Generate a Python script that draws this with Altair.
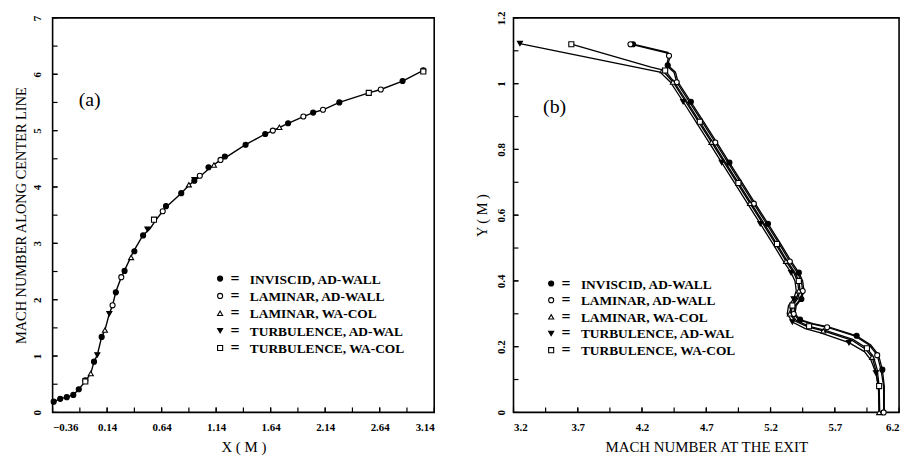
import altair as alt
import pandas as pd

FONT = "Liberation Serif"

SERIES = ["INVISCID, AD-WALL", "LAMINAR, AD-WALL", "LAMINAR, WA-COL",
          "TURBULENCE, AD-WAL", "TURBULENCE, WA-COL"]
SHAPES = ["circle", "circle", "triangle-up", "triangle-down", "square"]
FILLS = ["black", "white", "white", "black", "white"]

# ---------------- panel (a) ----------------
A_XDOM = [-0.36, 3.14]
A_YDOM = [0, 7]
A_XLABELS = [-0.36, 0.14, 0.64, 1.14, 1.64, 2.14, 2.64, 3.14]
A_XTICKS = [-0.11, 0.14, 0.39, 0.64, 0.89, 1.14, 1.39, 1.64, 1.89, 2.14, 2.39, 2.64, 2.89]
A_YLABELS = [0, 1, 2, 3, 4, 5, 6, 7]
A_YTICKS = [0.5, 1, 1.5, 2, 2.5, 3, 3.5, 4, 4.5, 5, 5.5, 6, 6.5]

a_curve_x = [-0.35, -0.29, -0.23, -0.17, -0.12, -0.06, -0.01, 0.02, 0.05, 0.09, 0.12, 0.16,
             0.19, 0.22, 0.27, 0.30, 0.38, 0.47, 0.53, 0.59, 0.65, 0.69, 0.82, 0.89, 0.94,
             1.00, 1.09, 1.18, 1.24, 1.41, 1.59, 1.66, 1.80, 1.94, 2.03, 2.12, 2.27, 2.54,
             2.65, 2.85, 3.04]
a_curve_m = [0.19, 0.24, 0.27, 0.31, 0.41, 0.55, 0.69, 0.90, 1.02, 1.34, 1.46, 1.75,
             1.90, 2.14, 2.40, 2.52, 2.85, 3.15, 3.25, 3.42, 3.57, 3.66, 3.89, 4.03, 4.11,
             4.20, 4.35, 4.48, 4.54, 4.75, 4.94, 5.00, 5.13, 5.25, 5.32, 5.37, 5.50, 5.67,
             5.73, 5.88, 6.07]

a_inv_x = [-0.35, -0.29, -0.23, -0.17, -0.12, -0.06, 0.02, 0.09, 0.22, 0.30, 0.39, 0.47,
           0.68, 0.82, 0.94, 1.07, 1.22, 1.41, 1.59, 1.80, 2.03, 2.27, 2.85, 3.04]
a_inv_m = [0.19, 0.24, 0.27, 0.31, 0.41, 0.57, 0.90, 1.34, 2.13, 2.51, 2.86, 3.14,
           3.66, 3.89, 4.11, 4.35, 4.54, 4.75, 4.94, 5.13, 5.32, 5.50, 5.88, 6.07]
a_lad_x = [0.19, 0.27, 0.65, 0.99, 1.18, 1.66, 1.94, 2.12, 2.65]
a_lad_m = [1.90, 2.40, 3.57, 4.20, 4.48, 5.00, 5.25, 5.37, 5.73]
a_lwc_x = [-0.01, 0.12, 0.36, 0.89, 1.12, 1.72]
a_lwc_m = [0.69, 1.46, 2.75, 4.04, 4.39, 5.06]
a_tad_x = [0.05, 0.16, 0.51, 0.94]
a_tad_m = [1.02, 1.75, 3.25, 4.13]
a_twc_x = [-0.06, 0.57, 2.54, 3.04]
a_twc_m = [0.55, 3.42, 5.67, 6.05]

# ---------------- panel (b) ----------------
B_XDOM = [3.2, 6.2]
B_YDOM = [0, 1.2]
B_XLABELS = [3.2, 3.7, 4.2, 4.7, 5.2, 5.7, 6.2]
B_XTICKS = [3.45, 3.7, 3.95, 4.2, 4.45, 4.7, 4.95, 5.2, 5.45, 5.7, 5.95]
B_YLABELS = [0, 0.2, 0.4, 0.6, 0.8, 1, 1.2]
B_YTICKS = [0.1, 0.2, 0.3, 0.4, 0.5, 0.6, 0.7, 0.8, 0.9, 1.0, 1.1]

b_inv_x = [4.13, 4.40, 4.42, 4.40, 4.46, 4.48, 4.58, 4.68, 4.78, 4.88, 4.98, 5.08, 5.18,
           5.28, 5.36, 5.42, 5.45, 5.46, 5.44, 5.40, 5.39, 5.43, 5.53, 5.65, 5.87, 5.98,
           6.04, 6.07, 6.085, 6.085]
b_inv_y = [1.12, 1.095, 1.086, 1.056, 1.035, 1.005, 0.945, 0.884, 0.822, 0.760, 0.698,
           0.636, 0.574, 0.512, 0.460, 0.425, 0.400, 0.370, 0.345, 0.325, 0.300, 0.282,
           0.270, 0.260, 0.233, 0.205, 0.175, 0.130, 0.080, 0.0]
b_lad_x = [4.11, 4.39, 4.41, 4.39, 4.45, 4.47, 4.57, 4.67, 4.77, 4.87, 4.97, 5.07, 5.17,
           5.27, 5.35, 5.41, 5.44, 5.45, 5.43, 5.39, 5.38, 5.42, 5.52, 5.64, 5.86, 5.97,
           6.03, 6.06, 6.08, 6.08]
b_lad_y = [1.12, 1.094, 1.085, 1.055, 1.034, 1.004, 0.944, 0.883, 0.821, 0.759, 0.697,
           0.635, 0.573, 0.511, 0.459, 0.424, 0.399, 0.369, 0.344, 0.324, 0.299, 0.281,
           0.269, 0.259, 0.232, 0.204, 0.174, 0.129, 0.079, 0.0]
b_twc_x = [3.65, 4.27, 4.38, 4.45, 4.55, 4.65, 4.75, 4.85, 4.95, 5.05, 5.15, 5.25, 5.33,
           5.39, 5.42, 5.43, 5.41, 5.37, 5.36, 5.40, 5.50, 5.62, 5.84, 5.95, 6.00, 6.03,
           6.045, 6.05]
b_twc_y = [1.12, 1.05, 1.04, 1.005, 0.945, 0.884, 0.822, 0.760, 0.698, 0.636, 0.574,
           0.512, 0.460, 0.425, 0.400, 0.370, 0.345, 0.325, 0.300, 0.280, 0.262, 0.250,
           0.222, 0.195, 0.170, 0.130, 0.080, 0.0]
b_lwc_x = [4.36, 4.44, 4.54, 4.64, 4.74, 4.84, 4.94, 5.04, 5.14, 5.24, 5.32, 5.38, 5.41,
           5.42, 5.40, 5.36, 5.35, 5.39, 5.49, 5.61, 5.83, 5.94, 5.99, 6.02, 6.04, 6.045]
b_lwc_y = [1.04, 1.005, 0.945, 0.884, 0.822, 0.760, 0.698, 0.636, 0.574, 0.512, 0.460,
           0.425, 0.400, 0.370, 0.345, 0.325, 0.300, 0.278, 0.260, 0.248, 0.220, 0.192,
           0.168, 0.128, 0.078, 0.0]
b_tad_x = [3.25, 4.34, 4.42, 4.52, 4.62, 4.72, 4.82, 4.92, 5.02, 5.12, 5.22, 5.30, 5.36,
           5.39, 5.40, 5.38, 5.34, 5.33, 5.37, 5.47, 5.59, 5.81, 5.93, 5.98, 6.02, 6.04,
           6.045]
b_tad_y = [1.122, 1.035, 1.005, 0.945, 0.884, 0.822, 0.760, 0.698, 0.636, 0.574, 0.512,
           0.460, 0.425, 0.400, 0.370, 0.345, 0.325, 0.300, 0.275, 0.255, 0.242, 0.212,
           0.185, 0.160, 0.120, 0.070, 0.0]

# ---------------- layout ----------------
WA, WB, H = 385, 389, 398


def frame(names, xs_list, ys_list):
    rows = []
    for name, xs, ys in zip(names, xs_list, ys_list):
        for i, (x, y) in enumerate(zip(xs, ys)):
            rows.append({"series": name, "x": x, "y": y, "i": i})
    return pd.DataFrame(rows)


def to_data(px, dom, size, flip=False):
    f = px / size
    return dom[1] - f * (dom[1] - dom[0]) if flip else dom[0] + f * (dom[1] - dom[0])


def legend_df(xdom, ydom, w, sym_px, eq_px, txt_px, top_px, step_px):
    rows = []
    for k, name in enumerate(SERIES):
        py = top_px + k * step_px
        rows.append({"series": name,
                     "sx": to_data(sym_px, xdom, w),
                     "ex": to_data(eq_px, xdom, w),
                     "tx": to_data(txt_px, xdom, w),
                     "y": to_data(py, ydom, H, flip=True)})
    return pd.DataFrame(rows)


def shape_fill():
    return dict(
        shape=alt.Shape("series:N", scale=alt.Scale(domain=SERIES, range=SHAPES), legend=None),
        fill=alt.Fill("series:N", scale=alt.Scale(domain=SERIES, range=FILLS), legend=None),
    )


def panel(xdom, ydom, w, xlabels, xfmt, xticks, ylabels, yfmt, yticks, xtitle, ytitle,
          lines_df, marks_df, leg, tag, tag_xy, ylab_pad, ytitle_pad, multi_line):
    xs = alt.Scale(domain=xdom, nice=False, zero=False)
    ys = alt.Scale(domain=ydom, nice=False, zero=False)
    xa = alt.Axis(values=xlabels, format=xfmt, title=xtitle, labelPadding=9, titlePadding=7)
    ya = alt.Axis(values=ylabels, format=yfmt, title=ytitle, labelAngle=270,
                  labelAlign="center", labelBaseline="bottom",
                  labelPadding=ylab_pad, titlePadding=ytitle_pad)
    X = lambda f="x": alt.X(f + ":Q", scale=xs, axis=xa)
    Y = lambda f="y": alt.Y(f + ":Q", scale=ys, axis=ya)

    if multi_line:
        line = alt.Chart(lines_df).mark_line(color="black", strokeWidth=1.3).encode(
            x=X(), y=Y(), detail="series:N", order="i:Q")
    else:
        line = alt.Chart(lines_df).mark_line(color="black", strokeWidth=1.4).encode(
            x=X(), y=Y(), order="i:Q")
    pts = alt.Chart(marks_df).mark_point(filled=True, stroke="black", strokeWidth=1.1,
                                         size=26, opacity=1).encode(x=X(), y=Y(), **shape_fill())

    xt = alt.Chart(pd.DataFrame({"x": xlabels + xticks})).mark_rule(
        color="black", strokeWidth=1.2).encode(x=X(), y=alt.value(H), y2=alt.value(H - 5))
    yt = alt.Chart(pd.DataFrame({"y": ylabels + yticks})).mark_rule(
        color="black", strokeWidth=1.2).encode(y=Y(), x=alt.value(0), x2=alt.value(5))

    lp = alt.Chart(leg).mark_point(filled=True, stroke="black", strokeWidth=1.1, size=26,
                                   opacity=1).encode(x=X("sx"), y=Y(), **shape_fill())
    le = alt.Chart(leg).mark_text(text="=", font=FONT, fontSize=16, fontWeight="bold",
                                  color="black", align="center", baseline="middle").encode(
        x=X("ex"), y=Y())
    lt = alt.Chart(leg).mark_text(font=FONT, fontSize=13.5, fontWeight="bold", color="black",
                                  align="left", baseline="middle", dy=1).encode(
        x=X("tx"), y=Y(), text="series:N")
    tg = alt.Chart(pd.DataFrame({"x": [tag_xy[0]], "y": [tag_xy[1]], "t": [tag]})).mark_text(
        font=FONT, fontSize=20, color="black", align="center", baseline="middle").encode(
        x=X(), y=Y(), text="t:N")

    return alt.layer(line, pts, xt, yt, lp, le, lt, tg).properties(width=w, height=H)


a_lines = pd.DataFrame({"x": a_curve_x, "y": a_curve_m, "i": list(range(len(a_curve_x)))})
a_marks = frame(SERIES, [a_inv_x, a_lad_x, a_lwc_x, a_tad_x, a_twc_x],
                [a_inv_m, a_lad_m, a_lwc_m, a_tad_m, a_twc_m])
a_leg = legend_df(A_XDOM, A_YDOM, WA, 169, 184, 199, 263, 17.5)

b_all = frame(SERIES, [b_inv_x, b_lad_x, b_lwc_x, b_tad_x, b_twc_x],
              [b_inv_y, b_lad_y, b_lwc_y, b_tad_y, b_twc_y])
offs = {s: k for k, s in enumerate(SERIES)}
b_marks = b_all[[r.i == 0 or (r.i + offs[r.series]) % 3 == 0 for r in b_all.itertuples()]]
b_leg = legend_df(B_XDOM, B_YDOM, WB, 38, 53, 68, 268, 16.8)

pa = panel(A_XDOM, A_YDOM, WA, A_XLABELS, ".2f", A_XTICKS, A_YLABELS, "d", A_YTICKS,
           "X ( M )", "MACH NUMBER ALONG CENTER LINE", a_lines, a_marks, a_leg,
           "(a)", (-0.02, 5.54), 10, 3, False)
pb = panel(B_XDOM, B_YDOM, WB, B_XLABELS, ".1f", B_XTICKS, B_YLABELS, "~g", B_YTICKS,
           "MACH NUMBER AT THE EXIT", "Y ( M )", b_all, b_marks, b_leg,
           "(b)", (3.52, 0.93), 7, 6, True)

chart = alt.hconcat(pa, pb, spacing=80, bounds="flush").properties(
    padding={"left": 5, "top": 0, "right": 5, "bottom": 0}
).configure_view(stroke="black", strokeWidth=1.6).configure_axis(
    grid=False, domain=False, ticks=False, tickSize=0,
    labelFont=FONT, labelFontSize=11, labelFontWeight="bold", labelColor="black",
    titleFont=FONT, titleFontSize=15, titleFontWeight="normal", titleColor="black"
).configure_axisY(titleFontSize=14.5)

chart.save("out.html", embed_options={"renderer": "svg", "actions": False})
